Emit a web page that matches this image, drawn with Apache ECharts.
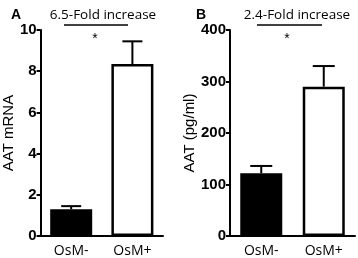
<!DOCTYPE html>
<html><head><meta charset="utf-8">
<script src="https://cdn.jsdelivr.net/npm/echarts@6/dist/echarts.min.js"></script>
<style>html,body{margin:0;padding:0;background:#fff}#c{width:358px;height:258px}</style>
</head><body><div id="c"></div>
<script>
const categories = ['OsM-', 'OsM+'];
const mrnaMean = [1.3, 8.35];
const mrnaErr = [0.15, 1.1];
const aatMean = [122, 290];
const aatErr = [14, 40];
const mrnaTicks = {min: 0, max: 10, interval: 2};
const aatTicks = {min: 0, max: 400, interval: 100};
const panelTitles = ['6.5-Fold increase', '2.4-Fold increase'];
const panelLetters = ['A', 'B'];
const yNames = ['AAT mRNA', 'AAT (pg/ml)'];

const FONT = 'Liberation Sans';
const NARROW = '"Liberation Sans Narrow", "Open Sans"';
const chart = echarts.init(document.getElementById('c'), null, {renderer: 'canvas'});

function xAx(gi) {
  return {
    type: 'category', gridIndex: gi, data: categories,
    axisLine: {lineStyle: {color: '#000', width: 2}},
    axisTick: {show: false},
    axisLabel: {color: '#000', fontFamily: NARROW, fontSize: 14, margin: 8}
  };
}
function yAx(gi, t, name, gap) {
  return {
    type: 'value', gridIndex: gi, min: t.min, max: t.max, interval: t.interval,
    name: name, nameLocation: 'middle', nameGap: gap, nameRotate: 90,
    nameTextStyle: {color: '#000', fontFamily: FONT, fontSize: 15},
    axisLine: {show: true, lineStyle: {color: '#000', width: 2}},
    axisTick: {show: true, length: 4, lineStyle: {color: '#000', width: 2}},
    axisLabel: {color: '#000', fontFamily: FONT, fontSize: 15, fontWeight: 'bold', margin: 4},
    splitLine: {show: false}
  };
}
function barData(vals) {
  return vals.map((v, i) => ({
    value: v,
    itemStyle: {color: i === 0 ? '#000' : '#fff', borderColor: '#000', borderWidth: 2.5}
  }));
}
function errSeries(gi, means, errs, capW) {
  return {
    type: 'custom', xAxisIndex: gi, yAxisIndex: gi, z: 1,
    data: means.map((m, i) => [i, m, m + errs[i]]),
    renderItem: function (params, api) {
      const b = api.coord([api.value(0), api.value(1)]);
      const t = api.coord([api.value(0), api.value(2)]);
      const st = {stroke: '#000', lineWidth: 2};
      return {type: 'group', children: [
        {type: 'line', shape: {x1: t[0], y1: b[1], x2: t[0], y2: t[1]}, style: st},
        {type: 'line', shape: {x1: t[0] - capW / 2, y1: t[1], x2: t[0] + capW / 2, y2: t[1]}, style: st}
      ]};
    }
  };
}

const grids = [
  {left: 37, top: 30, width: 126, height: 207},
  {left: 230, top: 30, width: 125, height: 207}
];

chart.setOption({
  animation: false,
  backgroundColor: '#fff',
  grid: grids,
  xAxis: [xAx(0), xAx(1)],
  yAxis: [yAx(0, mrnaTicks, yNames[0], 22), yAx(1, aatTicks, yNames[1], 31)],
  title: [
    {text: panelTitles[0], left: 98, top: 3, textAlign: 'center',
     textStyle: {fontFamily: 'Open Sans', fontSize: 13.5, fontWeight: 'normal', color: '#000'}},
    {text: panelTitles[1], left: 292, top: 3, textAlign: 'center',
     textStyle: {fontFamily: 'Open Sans', fontSize: 13.5, fontWeight: 'normal', color: '#000'}},
    {text: panelLetters[0], left: 6, top: 3,
     textStyle: {fontFamily: FONT, fontSize: 14, fontWeight: 'bold', color: '#000'}},
    {text: panelLetters[1], left: 191, top: 3,
     textStyle: {fontFamily: FONT, fontSize: 14, fontWeight: 'bold', color: '#000'}}
  ],
  graphic: [
    {type: 'line', shape: {x1: 64, y1: 25, x2: 128, y2: 25}, style: {stroke: '#000', lineWidth: 1.5}},
    {type: 'text', x: 95, y: 32, style: {text: '*', fill: '#000', font: '14px Liberation Sans', textAlign: 'center'}},
    {type: 'line', shape: {x1: 257, y1: 25, x2: 322, y2: 25}, style: {stroke: '#000', lineWidth: 1.5}},
    {type: 'text', x: 287, y: 32, style: {text: '*', fill: '#000', font: '14px Liberation Sans', textAlign: 'center'}}
  ],
  series: [
    {type: 'bar', xAxisIndex: 0, yAxisIndex: 0, barWidth: 42, data: barData(mrnaMean), z: 2},
    errSeries(0, mrnaMean, mrnaErr, 20),
    {type: 'bar', xAxisIndex: 1, yAxisIndex: 1, barWidth: 42, data: barData(aatMean), z: 2},
    errSeries(1, aatMean, aatErr, 22)
  ]
});
</script></body></html>
